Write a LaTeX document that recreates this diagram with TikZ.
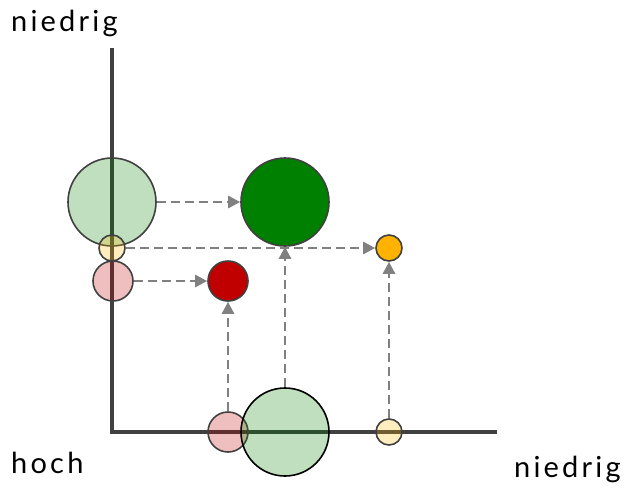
\documentclass[tikz,border=0pt]{standalone}
\usepackage{fontspec}
\setmainfont{Lato}[LetterSpace=11]
\usetikzlibrary{arrows.meta}
\definecolor{axis}{HTML}{404040}
\definecolor{arr}{HTML}{808080}
\definecolor{dgreen}{HTML}{008000}
\definecolor{dred}{HTML}{C00000}
\definecolor{orng}{HTML}{FFB300}
\tikzset{
  axisline/.style={line width=4pt, draw=axis},
  bubble/.style={circle, draw=axis, line width=1.6pt, inner sep=0pt, minimum size=#1},
  faint/.style={fill opacity=0.25},
  link/.style={draw=arr, line width=2.6pt, dash pattern=on 9pt off 5pt, -{Triangle[length=12pt,width=12pt]}},
  lbl/.style={font=\fontsize{29}{32}\selectfont, inner sep=0pt, text=black}
}
\begin{document}
\begin{tikzpicture}[x=1pt,y=-1pt]
\useasboundingbox (0,0) rectangle (634,488);
\coordinate (ytop) at (112,48);
\coordinate (org) at (112,432);
\coordinate (xend) at (497,432);
\draw[axisline] (ytop) -- (org) -- (xend);
% left column
\node[bubble=88pt, faint, fill=dgreen] (g1) at (112,202) {};
\node[bubble=26pt, faint, fill=orng] (y1) at (112,248) {};
\node[bubble=40pt, faint, fill=dred] (p1) at (113,281) {};
% bottom row
\node[bubble=40pt, faint, fill=dred] (p2) at (228,432) {};
\node[bubble=88pt, faint, fill=dgreen, draw=black] (g2) at (285,432) {};
\node[bubble=26pt, faint, fill=orng] (y2) at (389,432) {};
% results
\node[bubble=88pt, fill=dgreen] (g3) at (285,202) {};
\node[bubble=26pt, fill=orng] (y3) at (389,248) {};
\node[bubble=40pt, fill=dred] (p3) at (228,281) {};
% connectors
\draw[link] (g1) -- (g3);
\draw[link] (y1) -- (y3);
\draw[link] (p1) -- (p3);
\draw[link] (p2) -- (p3);
\draw[link] (g2) -- (g3);
\draw[link] (y2) -- (y3);
% labels
\node[lbl, anchor=base west] (l1) at (11,31) {niedrig};
\node[lbl, anchor=base west] (l2) at (11,473) {hoch};
\node[lbl, anchor=base west] (l3) at (514,477) {niedrig};
\end{tikzpicture}
\end{document}
